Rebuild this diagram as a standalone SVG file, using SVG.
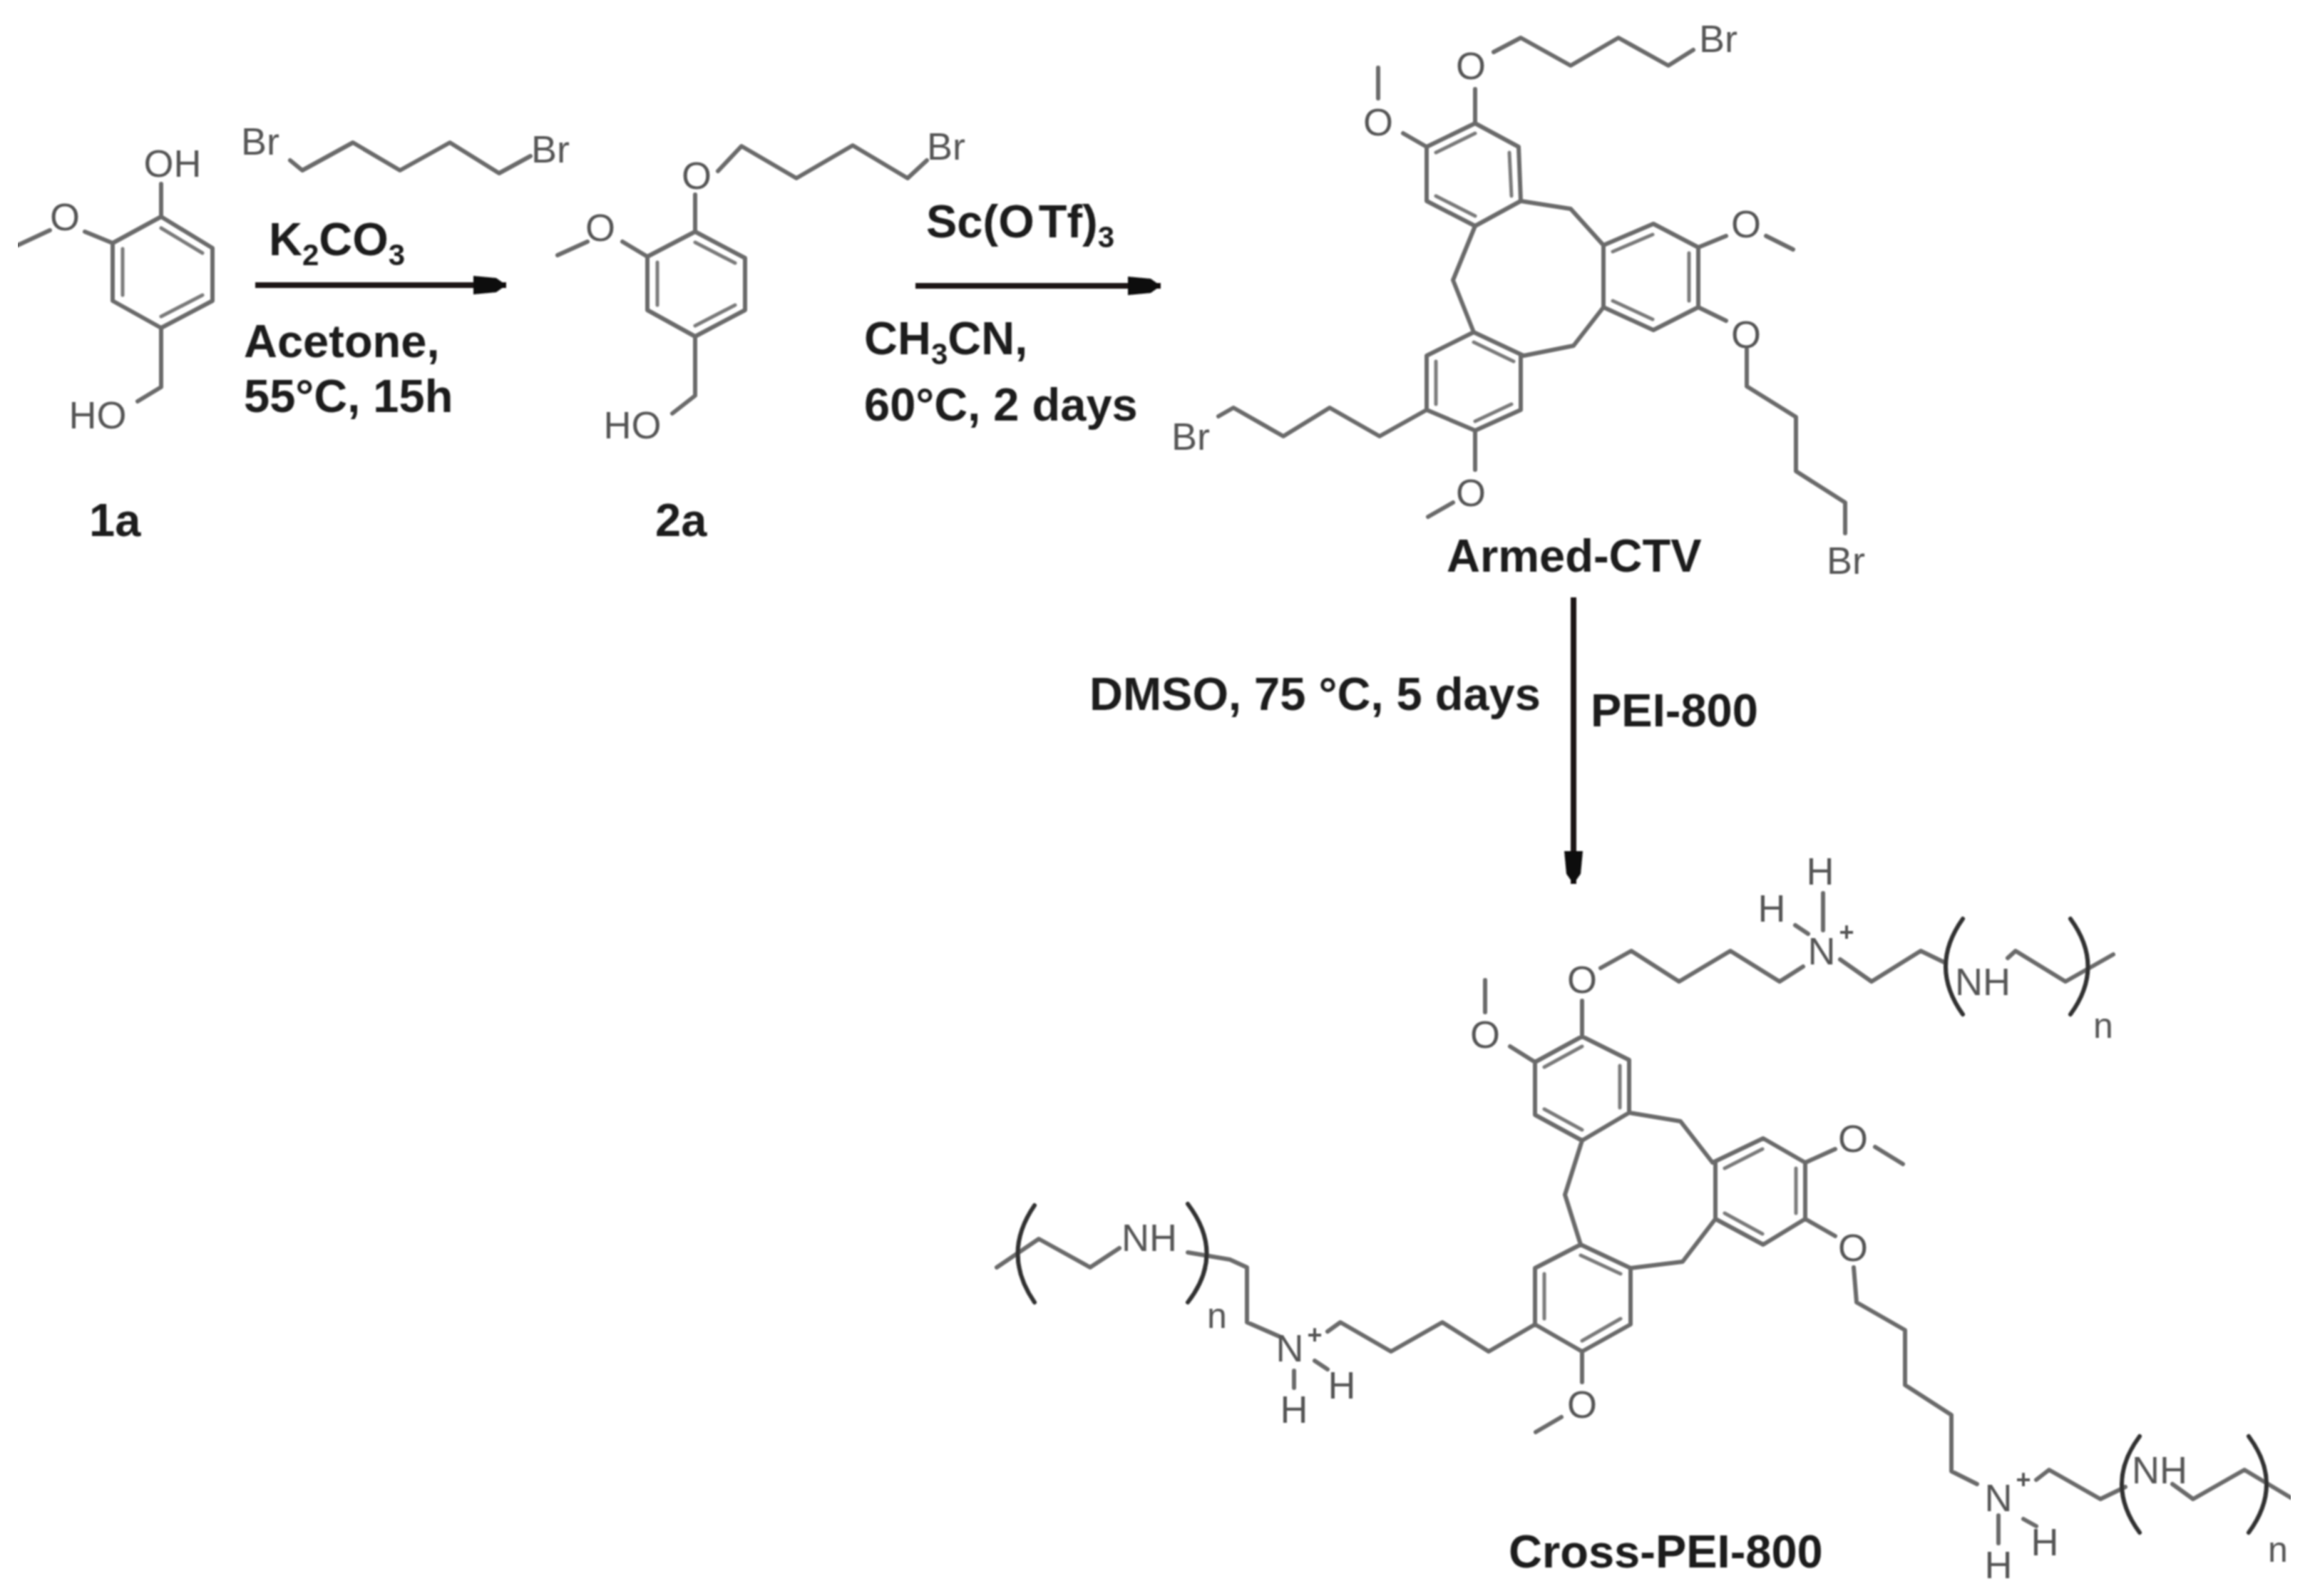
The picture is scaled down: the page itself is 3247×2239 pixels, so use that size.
<svg xmlns="http://www.w3.org/2000/svg" width="3247" height="2239" viewBox="0 0 3247 2239">
<style>
.b{fill:none;stroke:#6a6a6a;stroke-width:6;stroke-linejoin:round;stroke-linecap:round}
.i{fill:none;stroke:#7a7a7a;stroke-width:5;stroke-linecap:round}
.p{fill:none;stroke:#333;stroke-width:6;stroke-linecap:round}
.a{font-family:"Liberation Sans",Arial,sans-serif;font-size:54px;fill:#555;text-anchor:middle}
.n{font-size:50px}
.c{font-size:36px;font-weight:700}
.t{font-family:"Liberation Sans",Arial,sans-serif;font-size:65px;font-weight:700;fill:#1c1c1c}
.s{font-size:42px}
.arr{stroke:#1c1414;stroke-width:8;fill:none}
</style>
<defs>
<marker id="h" markerUnits="userSpaceOnUse" markerWidth="50" markerHeight="30" refX="46" refY="15" orient="auto"><path d="M0 2 L32 5 L46 15 L32 25 L0 28Z" fill="#111"/></marker>
<filter id="soft" x="0" y="0" width="100%" height="100%"><feGaussianBlur stdDeviation="1"/></filter>
</defs>
<rect width="3247" height="2239" fill="#fff"/>
<g filter="url(#soft)">
<g id="node-1a">
<path class="b" d="M226 304L298 348V422L226 460L158 422V341ZM226 304V258M158 341L119 325M70 323L25 344M226 460V543L193 563"/>
<path class="i" d="M226 320L284 355M284 414L226 444M172 414V349"/>
<text class="a" x="242" y="248">OH</text><text class="a" x="91" y="323">O</text><text class="a" x="137" y="601">HO</text>
<text class="t" x="125" y="752">1a</text>
</g>

<g id="node-dibromide">
<path class="b" d="M407 225L424 239L495 200L561 239L631 200L700 243L744 219"/>
<text class="a" x="365" y="217">Br</text><text class="a" x="772" y="228">Br</text>
</g>

<g id="node-2a">
<path class="b" d="M975 325L1045 362V435L975 472L908 435V360ZM975 325V273M1007 240L1040 205L1117 250L1196 204L1273 250L1300 225M908 360L873 339M824 339L782 358M975 472V555L943 580"/>
<path class="i" d="M975 340L1031 369M1031 428L975 457M922 428V368"/>
<text class="a" x="977" y="265">O</text><text class="a" x="842" y="338">O</text><text class="a" x="887" y="615">HO</text><text class="a" x="1327" y="224">Br</text>
<text class="t" x="919" y="752">2a</text>
</g>

<g id="node-armed-ctv">
<path class="b" d="M2069 173L2130 206L2133 282L2069 317L2001 282V206ZM2069 125V173M2095 73L2133 53L2203 92L2270 53L2340 92L2375 70M2001 206L1968 187M1933 95V138M2133 282L2203 293L2249 344L2319 314L2382 347V431L2319 463L2249 431V344M2382 347L2421 331M2477 331L2515 350M2382 431L2421 450M2450 490V542L2519 585V661L2588 705V748M2249 431L2207 485L2137 499L2067 466L2001 499V575L2069 604L2133 575V499M2069 604V659M2038 705L2003 725M2001 575L1935 612L1865 572L1800 612L1730 572L1709 584M2069 317L2038 393L2067 466"/>
<path class="i" d="M2069 187L2014 214M2117 214L2120 275M2069 303L2014 275M2262 353L2318 329M2369 355V422M2318 448L2262 422M2067 480L2123 507M2014 507V567M2069 591L2120 567"/>
<text class="a" x="2063" y="111">O</text><text class="a" x="2410" y="73">Br</text><text class="a" x="1933" y="190">O</text><text class="a" x="2449" y="333">O</text><text class="a" x="2449" y="488">O</text><text class="a" x="2589" y="805">Br</text><text class="a" x="2063" y="710">O</text><text class="a" x="1670" y="631">Br</text>
<text class="t" x="2029" y="802">Armed-CTV</text>
</g>

<g id="node-cross-pei">
<path class="b" d="M2219 1454L2285 1487V1561L2219 1600L2153 1564V1490ZM2219 1404V1454M2245 1358L2288 1334L2355 1377L2427 1334L2496 1377L2529 1356M2518 1298L2536 1310M2557 1253V1305M2581 1346L2625 1377L2694 1334L2729 1351M2816 1344L2827 1334L2897 1377L2964 1339M2153 1490L2118 1468M2083 1375V1420M2285 1561L2357 1573L2402 1631L2473 1597L2532 1631V1710L2473 1746L2406 1710V1631M2532 1631L2574 1612M2630 1609L2669 1633M2532 1710L2574 1734M2406 1710L2360 1770L2287 1779L2217 1746L2153 1779V1858L2219 1896L2287 1858V1779M2219 1600L2195 1676L2217 1746M2153 1858L2088 1896L2023 1855L1951 1896L1880 1855L1862 1868M1797 1876L1749 1855V1778L1725 1767L1666 1757M1570 1751L1529 1778L1457 1738L1398 1778M1844 1909L1862 1921M1815 1923V1947M2219 1896V1939M2190 1988L2154 2009M2600 1778L2604 1827L2672 1866V1943L2737 1985V2064L2773 2082M2838 2131L2856 2141M2803 2126V2165M2856 2076L2874 2062L2946 2103L2981 2086M3047 2082L3076 2103L3148 2062L3213 2101"/>
<path class="i" d="M2219 1468L2166 1497M2272 1495V1554M2219 1585L2166 1556M2419 1639L2472 1612M2519 1639V1702M2472 1731L2419 1702M2217 1761L2273 1787M2166 1787V1850M2219 1881L2273 1850"/>
<path class="p" d="M2753 1289Q2705 1356 2753 1423M2904 1289Q2953 1356 2904 1423M1451 1691Q1404 1759 1451 1827M1666 1689Q1719 1759 1666 1827M3001 2015Q2951 2082 3001 2150M3154 2015Q3204 2082 3154 2150"/>
<text class="a" x="2219" y="1393">O</text><text class="a" x="2555" y="1353">N</text><text class="a c" x="2590" y="1320">+</text><text class="a" x="2553" y="1241">H</text><text class="a" x="2485" y="1293">H</text><text class="a" x="2781" y="1396">NH</text><text class="a n" x="2950" y="1456">n</text>
<text class="a" x="2083" y="1470">O</text><text class="a" x="2599" y="1616">O</text><text class="a" x="2599" y="1769">O</text>
<text class="a" x="1612" y="1755">NH</text><text class="a n" x="1707" y="1863">n</text><text class="a" x="1809" y="1910">N</text><text class="a c" x="1844" y="1885">+</text><text class="a" x="1882" y="1962">H</text><text class="a" x="1815" y="1996">H</text><text class="a" x="2219" y="1989">O</text>
<text class="a" x="2803" y="2120">N</text><text class="a c" x="2838" y="2088">+</text><text class="a" x="2868" y="2182">H</text><text class="a" x="2803" y="2214">H</text><text class="a" x="3029" y="2081">NH</text><text class="a n" x="3195" y="2191">n</text>
<text class="t" x="2116" y="2199">Cross-PEI-800</text>
</g>

<g id="connectors">
<path class="arr" marker-end="url(#h)" d="M358 400H710"/>
<path class="arr" marker-end="url(#h)" d="M1284 401H1628"/>
<path class="arr" marker-end="url(#h)" d="M2207 838V1240"/>
</g>

<g id="conditions">
<text class="t" x="377" y="358">K<tspan class="s" dy="14">2</tspan><tspan dy="-14">CO</tspan><tspan class="s" dy="14">3</tspan></text>
<text class="t" x="342" y="501">Acetone,</text>
<text class="t" x="342" y="578">55°C, 15h</text>
<text class="t" x="1299" y="333">Sc(O<tspan dx="6">Tf)</tspan><tspan class="s" dy="14">3</tspan></text>
<text class="t" x="1212" y="497">CH<tspan class="s" dy="14">3</tspan><tspan dy="-14">CN,</tspan></text>
<text class="t" x="1212" y="590">60°C, 2 days</text>
<text class="t" x="1528" y="996">DMSO, 75 °C, 5 days</text>
<text class="t" x="2231" y="1019">PEI-800</text>
</g>
</g>
</svg>
